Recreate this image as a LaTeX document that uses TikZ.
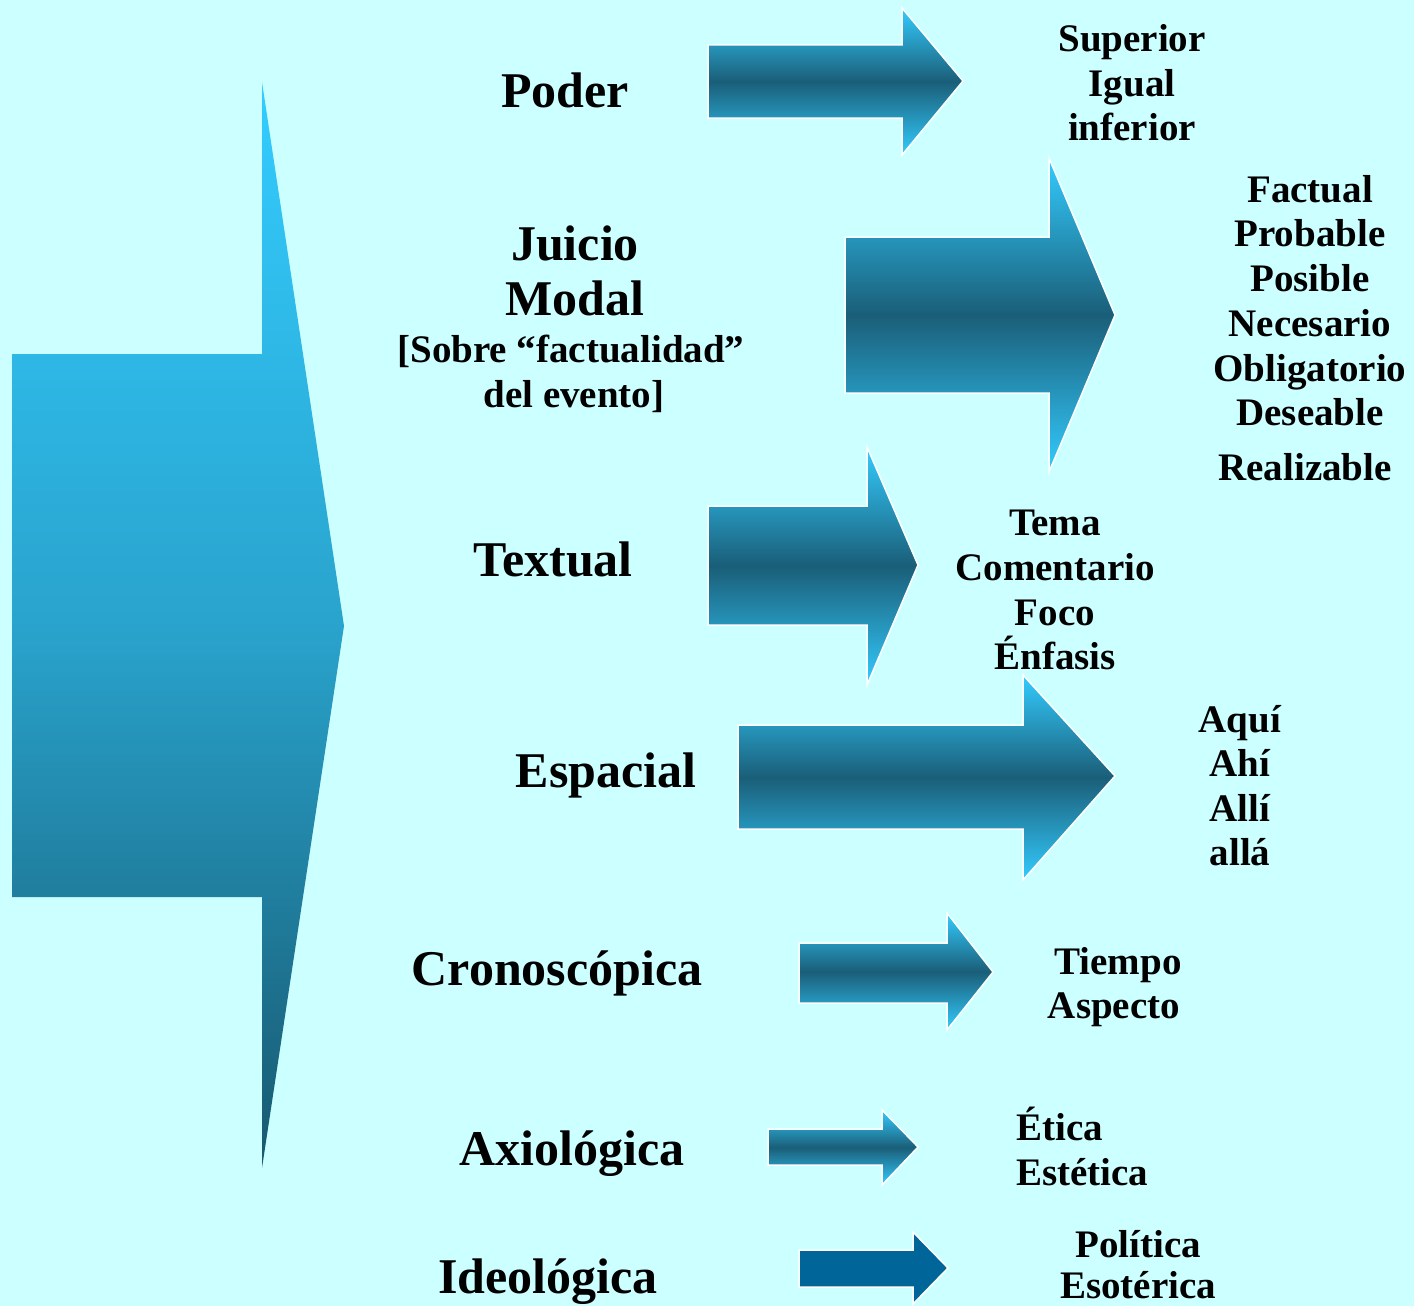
\documentclass[tikz,border=0pt]{standalone}
\usepackage{fontspec}
\setmainfont{Liberation Serif}
\definecolor{bg}{HTML}{CCFFFF}
\definecolor{lite}{HTML}{33CCFF}
\definecolor{dark}{HTML}{1A5E78}
\definecolor{deep}{HTML}{17586F}
\definecolor{solid}{HTML}{006699}
\newcommand\myarrow[9][]{%
  \path[#1] (#2,#3) -- (#5,#3) -- (#5,#6) -- (#8,#9) -- (#5,#7) -- (#5,#4) -- (#2,#4) -- cycle;}
\tikzset{
  big/.style={font=\bfseries\fontsize{50}{60}\selectfont, anchor=base, inner sep=0pt},
  med/.style={font=\bfseries\fontsize{39}{45}\selectfont, anchor=base, inner sep=0pt},
  grad/.style={draw=white, line width=1.5pt, top color=lite, bottom color=lite, middle color=dark},
}
\begin{document}
\begin{tikzpicture}[x=1pt,y=-1pt]
\fill[bg] (0,0) rectangle (1414,1306);
\useasboundingbox (0,0) rectangle (1414,1306);
% big left arrow
\myarrow[top color=lite, bottom color=deep, middle color={lite!65!deep}]{12}{354}{897}{262}{82}{1168}{344}{626}
% small arrows
\myarrow[grad]{708}{45}{118}{902}{8}{155}{963}{81}
\myarrow[grad]{845}{237}{393}{1049}{158}{472}{1115}{315}
\myarrow[grad]{708}{506}{625}{867}{447}{685}{918}{565}
\myarrow[grad]{738}{725}{829}{1023}{675}{880}{1115}{776}
\myarrow[grad]{799}{943}{1003}{947}{913}{1030}{993}{972}
\myarrow[grad]{768}{1129}{1165}{882}{1110}{1185}{918}{1147}
\myarrow[draw=white, line width=1.5pt, fill=solid]{799}{1250}{1287}{913}{1232}{1304}{948}{1268}
% left labels
\node[big] (poder) at (565,107) {Poder};
\node[big] (juicio) at (575,260) {Juicio};
\node[big] (modal) at (575,315) {Modal};
\node[med] (sobre) at (571,362) {[Sobre “factualidad”};
\node[med] (evento) at (574,407) {del evento]};
\node[big] (textual) at (553,576) {Textual};
\node[big] (espacial) at (606,787) {Espacial};
\node[big] (crono) at (557,985) {Cronoscópica};
\node[big] (axio) at (572,1165) {Axiológica};
\node[big] (ideo) at (548,1293) {Ideológica};
% right labels
\foreach \t/\y [count=\i] in {Superior/52, Igual/96, inferior/140}
  \node[med] (pw\i) at (1132,\y) {\t};
\foreach \t/\y [count=\i] in {Factual/202, Probable/246, Posible/291, Necesario/336, Obligatorio/381, Deseable/425}
  \node[med] (jm\i) at (1310,\y) {\t};
\node[med] (jm7) at (1305,480) {Realizable};
\foreach \t/\y [count=\i] in {Tema/535, Comentario/580, Foco/625, Énfasis/669}
  \node[med] (tx\i) at (1055,\y) {\t};
\foreach \t/\y [count=\i] in {Aquí/732, Ahí/776, Allí/821, allá/865}
  \node[med] (es\i) at (1240,\y) {\t};
\node[med] (cr1) at (1118,974) {Tiempo};
\node[med] (cr2) at (1114,1018) {Aspecto};
\node[med, anchor=base west] (ax1) at (1016,1140) {Ética};
\node[med, anchor=base west] (ax2) at (1016,1185) {Estética};
\node[med] (id1) at (1138,1257) {Política};
\node[med] (id2) at (1138,1298) {Esotérica};
\end{tikzpicture}
\end{document}
